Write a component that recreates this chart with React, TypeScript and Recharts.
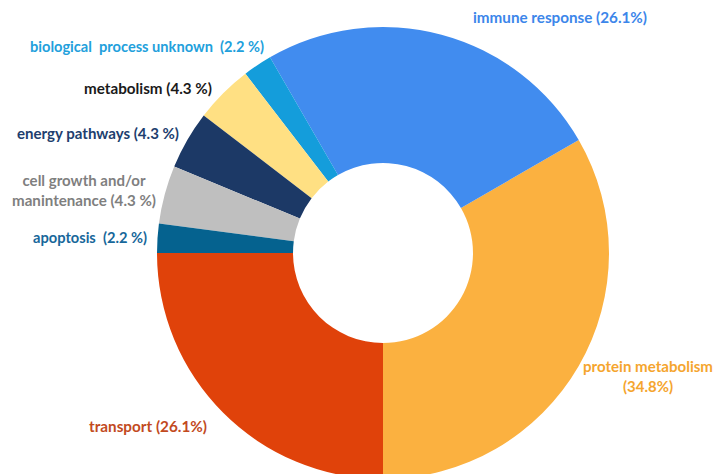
import React from "react";
import { PieChart, Pie, Cell } from "recharts";

const categories = [
  "protein metabolism",
  "immune response",
  "biological process unknown",
  "metabolism",
  "energy pathways",
  "cell growth and/or manintenance",
  "apoptosis",
  "transport",
];
const counts = [16, 12, 1, 2, 2, 2, 1, 12];
const labelLines: string[][] = [
  ["protein metabolism", "(34.8%)"],
  ["immune response (26.1%)"],
  ["biological  process unknown  (2.2 %)"],
  ["metabolism (4.3 %)"],
  ["energy pathways (4.3 %)"],
  ["cell growth and/or", "manintenance (4.3 %)"],
  ["apoptosis  (2.2 %)"],
  ["transport (26.1%)"],
];

const sliceColors = ["#FBB140", "#418CEF", "#149DDB", "#FFE083", "#1C3966", "#BFBFBF", "#05628F", "#E0420A"];
const textColors = ["#F5A52E", "#3C86EA", "#22A0DC", "#1A1A1A", "#213E6E", "#7F7F7F", "#17679A", "#C24A1E"];
// label anchor offsets relative to the pie centre (dx, dy), text anchor, and line widths
const labelLayout: { dx: number; dy: number; anchor: "start" | "middle" | "end"; widths: number[] }[] = [
  { dx: 265, dy: 115, anchor: "middle", widths: [130, 50] },
  { dx: 177, dy: -234, anchor: "middle", widths: [174] },
  { dx: -119, dy: -205, anchor: "end", widths: [234] },
  { dx: -171, dy: -163, anchor: "end", widths: [128] },
  { dx: -204, dy: -118, anchor: "end", widths: [162] },
  { dx: -299, dy: -71, anchor: "middle", widths: [123, 144] },
  { dx: -236, dy: -14, anchor: "end", widths: [114] },
  { dx: -176, dy: 175, anchor: "end", widths: [118] },
];

const data = categories.map((name, i) => ({ name, value: counts[i] }));

const renderLabel = (props: any) => {
  const { cx, cy, index } = props;
  const l = labelLayout[index];
  const lines = labelLines[index];
  return (
    <text
      x={cx + l.dx}
      y={cy + l.dy}
      textAnchor={l.anchor}
      fill={textColors[index]}
      fontFamily="Lato, 'Open Sans', sans-serif"
      fontWeight={700}
      fontSize={15.3}
      dominantBaseline="middle"
      style={{ whiteSpace: "pre" }}
    >
      {lines.map((t, k) => (
        <tspan
          key={k}
          x={cx + l.dx}
          dy={k === 0 ? 0 : 20}
          textLength={l.widths[k]}
          lengthAdjust="spacingAndGlyphs"
        >
          {t}
        </tspan>
      ))}
    </text>
  );
};

export default function App() {
  return (
    <div style={{ position: "absolute", left: 0, top: 0, width: 715, height: 474, background: "#fff", overflow: "hidden" }}>
      <PieChart width={715} height={474} margin={{ top: 0, right: 0, bottom: 0, left: 0 }}>
        <Pie
          data={data}
          dataKey="value"
          nameKey="name"
          cx={383}
          cy={253}
          innerRadius={90}
          outerRadius={226}
          startAngle={-90}
          endAngle={270}
          stroke="none"
          label={renderLabel}
          labelLine={false}
          isAnimationActive={false}
        >
          {data.map((d, i) => (
            <Cell key={d.name} fill={sliceColors[i]} />
          ))}
        </Pie>
      </PieChart>
    </div>
  );
}
